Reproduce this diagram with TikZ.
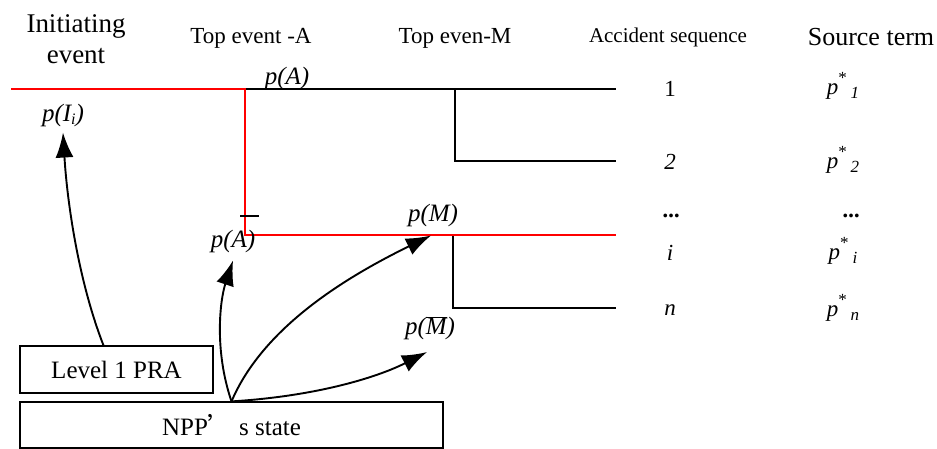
\documentclass[tikz,border=0pt]{standalone}
\usepackage{fontspec}
\setmainfont{Liberation Serif}
\newfontfamily\cjk{Noto Sans CJK SC}
\usetikzlibrary{arrows.meta}
\newcommand\pstarlab[1]{\textit{p}\raisebox{0.5em}{\fontsize{17}{17}\selectfont *}\,\raisebox{-0.3ex}{\fontsize{17}{17}\selectfont\itshape #1}}
\begin{document}
\begin{tikzpicture}[x=1pt,y=-1pt,
  treeline/.style={line width=2.3pt, line cap=rect},
  redline/.style={line width=2.2pt, red, line cap=rect},
  arr/.style={line width=1.9pt, -{Latex[length=25pt,width=18pt]}},
  boxnode/.style={draw, line width=1.2pt, inner sep=0pt, font=\fontsize{25}{28}\selectfont},
  lab/.style={inner sep=0pt, font=\fontsize{25}{28}\selectfont\itshape},
  num/.style={inner sep=0pt, font=\fontsize{23}{26}\selectfont},
  numit/.style={inner sep=0pt, font=\fontsize{23}{26}\selectfont\itshape},
  headbig/.style={inner sep=0pt, align=center, font=\fontsize{27}{31}\selectfont},
  headsrc/.style={inner sep=0pt, font=\fontsize{26}{30}\selectfont},
  headmid/.style={inner sep=0pt, font=\fontsize{23}{26}\selectfont},
  headsmall/.style={inner sep=0pt, font=\fontsize{21}{24}\selectfont}
]
\useasboundingbox (0,0) rectangle (937,449);

% headings
\node[headbig] (hInit) at (76,39) {Initiating\\event};
\node[headmid] (hA) at (251,38) {Top event -A};
\node[headmid] (hM) at (455,38) {Top even-M};
\node[headsmall] (hAcc) at (668,37) {Accident sequence};
\node[headsrc] (hSrc) at (871,37) {Source term};

% tree coordinates
\coordinate (s) at (12,89);
\coordinate (b1) at (245,89);
\coordinate (e1) at (615,89);
\coordinate (b2) at (455,89);
\coordinate (e2) at (615,161);
\coordinate (b3) at (245,235);
\coordinate (b4) at (453,235);
\coordinate (e3) at (615,235);
\coordinate (e4) at (615,308);

\draw[treeline] (b1) -- (e1);
\draw[treeline] (b2) |- (e2);
\draw[treeline] (b4) |- (e4);
\draw[redline] (s) -- (b1) -- (b3) -- (e3);

% branch labels
\node[lab] (pA) at (287,78) {p(A)};
\node[lab] (pI) at (63,115) {p(I\raisebox{-0.3ex}{\fontsize{16}{16}\selectfont i})};
\node[lab] (pAbar) at (233,241) {p(A)};
\draw[line width=1.6pt] (240,216) -- (259,216);
\node[lab] (pM) at (433,215) {p(M)};
\node[lab] (pMbar) at (430,328) {p(\(\overline{\hbox{\itshape M}}\))};

% sequences
\node[num] (n1) at (670,89) {1};
\node[numit] (n2) at (670,162) {2};
\node[numit, font=\fontsize{23}{26}\selectfont\bfseries\itshape] (ndots) at (672,216) {...};
\node[numit] (ni) at (670,253) {i};
\node[numit] (nn) at (670,310) {n};

\node[num] (s1) at (843,86) {\pstarlab{1}};
\node[num] (s2) at (843,160) {\pstarlab{2}};
\node[numit, font=\fontsize{23}{26}\selectfont\bfseries\itshape] (sdots) at (852,216) {...};
\node[num] (si) at (843,251) {\pstarlab{i}};
\node[num] (sn) at (843,308) {\pstarlab{n}};

% boxes
\node[boxnode, minimum width=193pt, minimum height=47pt] (lvl) at (116.5,369.5) {Level 1 PRA};
\node[boxnode, minimum width=423pt, minimum height=46pt] (npp) at (231.5,425) {NPP{\cjk ’} s state};

% arrows
\draw[arr] ([xshift=-13pt]lvl.north) .. controls (78,280) and (67,200) .. ([shift={(0,6)}]pI.south);
\draw[arr] (npp.north) .. controls (214,350) and (220,300) .. ([shift={(0,8)}]pAbar.south);
\draw[arr] (npp.north) .. controls (262,330) and (340,280) .. ([shift={(-2,9)}]pM.south);
\draw[arr] (npp.north) .. controls (320,396) and (380,376) .. ([shift={(-3,12)}]pMbar.south);
\end{tikzpicture}
\end{document}
